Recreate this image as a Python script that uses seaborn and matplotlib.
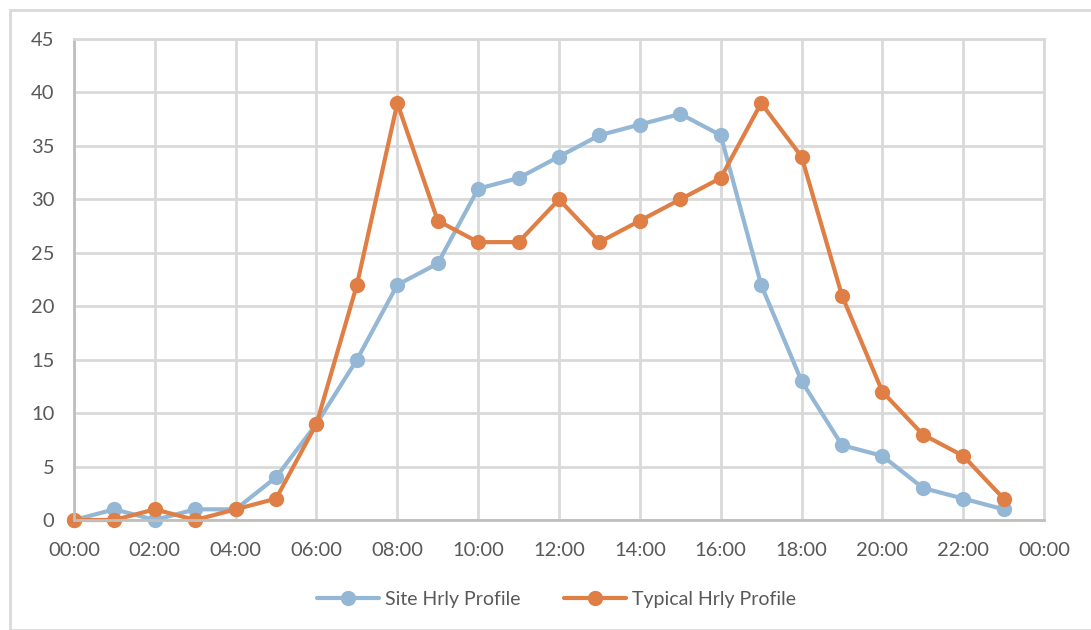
import matplotlib
matplotlib.use("Agg")
import matplotlib.pyplot as plt
import seaborn as sns
import pandas as pd
from matplotlib.patches import Rectangle

hours = list(range(24))
site_profile = [0, 1, 0, 1, 1, 4, 9, 15, 22, 24, 31, 32, 34, 36, 37, 38, 36, 22, 13, 7, 6, 3, 2, 1]
typical_profile = [0, 0, 1, 0, 1, 2, 9, 22, 39, 28, 26, 26, 30, 26, 28, 30, 32, 39, 34, 21, 12, 8, 6, 2]
series_names = ["Site Hrly Profile", "Typical Hrly Profile"]
tick_hours = list(range(0, 25, 2))
tick_labels = ["00:00", "02:00", "04:00", "06:00", "08:00", "10:00", "12:00",
               "14:00", "16:00", "18:00", "20:00", "22:00", "00:00"]
y_ticks = list(range(0, 46, 5))

colors = {series_names[0]: "#94b7d5", series_names[1]: "#df7f45"}
text_color = "#595959"
grid_color = "#d9d9d9"

sns.set_theme(style="white")
plt.rcParams["font.family"] = ["Lato", "DejaVu Sans"]

df = pd.DataFrame({
    "hour": hours * 2,
    "value": site_profile + typical_profile,
    "series": [series_names[0]] * len(hours) + [series_names[1]] * len(hours),
})

fig = plt.figure(figsize=(10.91, 6.30), dpi=100)
ax = fig.add_axes([0.0678, 0.1746, 0.8892, 0.7634])

sns.lineplot(data=df, x="hour", y="value", hue="series", palette=colors,
             marker="o", markersize=11, markeredgewidth=0, linewidth=3,
             ax=ax, legend=True)
for line in ax.lines:
    line.set_clip_on(False)

ax.set_xlim(0, 24)
ax.set_ylim(0, 45)
ax.set_xticks(tick_hours)
ax.set_xticklabels(tick_labels)
ax.set_yticks(y_ticks)
ax.set_xlabel("")
ax.set_ylabel("")
ax.grid(True, color=grid_color, linewidth=2)
ax.set_axisbelow(True)
for side in ["top", "right"]:
    ax.spines[side].set_color(grid_color)
    ax.spines[side].set_linewidth(2)
for side in ["left", "bottom"]:
    ax.spines[side].set_color("#bfbfbf")
    ax.spines[side].set_linewidth(2)
ax.tick_params(axis="both", colors=text_color, labelsize=14.5, length=0)
ax.tick_params(axis="x", pad=16)
ax.tick_params(axis="y", pad=14)
for lbl in ax.get_xticklabels() + ax.get_yticklabels():
    lbl.set_color(text_color)

handles, labels = ax.get_legend_handles_labels()
ax.get_legend().remove()
leg = fig.legend(handles, labels, loc="center", bbox_to_anchor=(0.51, 0.048),
                 ncol=2, frameon=False, fontsize=14, handlelength=3.2,
                 columnspacing=2.2, handletextpad=0.3)
for t in leg.get_texts():
    t.set_color(text_color)

fig.patches.append(Rectangle((10 / 1091, 0), 1.1, (630 - 10) / 630,
                             transform=fig.transFigure, fill=False,
                             edgecolor=grid_color, linewidth=2, zorder=0))

fig.savefig("out.png", dpi=100)
